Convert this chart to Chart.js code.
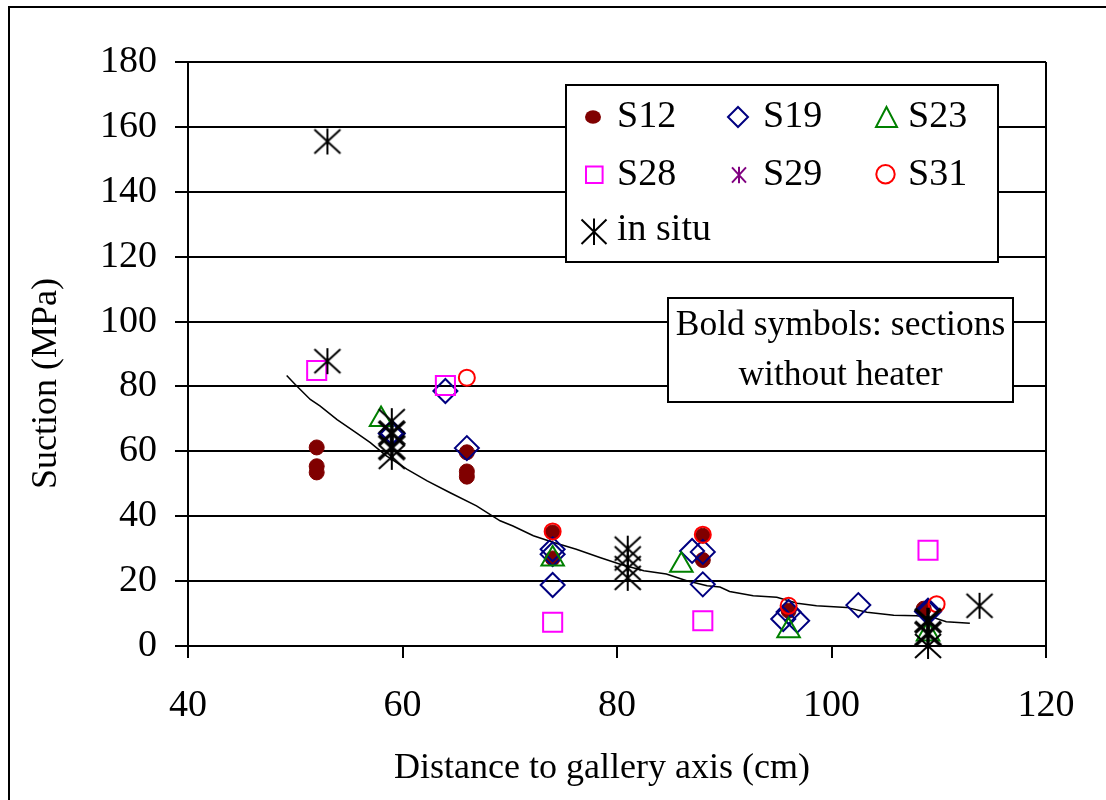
<!DOCTYPE html>
<html>
<head>
<meta charset="utf-8">
<script src="https://cdn.jsdelivr.net/npm/chart.js@4.4.1/dist/chart.umd.min.js"></script>
<style>
  html, body { margin: 0; padding: 0; background: #fff; }
  canvas { display: block; }
</style>
</head>
<body>
<canvas id="suction-chart" width="1106" height="800"></canvas>
<script>
var xTicks = [40, 60, 80, 100, 120];
var yTicks = [0, 20, 40, 60, 80, 100, 120, 140, 160, 180];

var s12 = [
  {x: 52, y: 61.2}, {x: 52, y: 55.4}, {x: 52, y: 53.5},
  {x: 66, y: 59.7}, {x: 66, y: 53.8}, {x: 66, y: 52.2},
  {x: 74, y: 35}, {x: 74, y: 27},
  {x: 88, y: 34}, {x: 88, y: 26.5},
  {x: 96, y: 10.9}, {x: 108.6, y: 11.5}
];
var s19 = [
  {x: 64, y: 78.6}, {x: 66, y: 61},
  {x: 74, y: 29.8}, {x: 74, y: 28.3}, {x: 74, y: 18.8},
  {x: 87, y: 29.3}, {x: 88, y: 29}, {x: 88, y: 19},
  {x: 95.5, y: 8.3}, {x: 96.8, y: 7.8}, {x: 96, y: 10.5},
  {x: 102.5, y: 12.6}
];
var s19NoHeater = [{x: 59, y: 65.5}, {x: 109, y: 10.6}];
var s23 = [
  {x: 58, y: 69.8}, {x: 74, y: 26.8}, {x: 86, y: 24.9},
  {x: 96, y: 4.7}, {x: 109, y: 3.7}
];
var s28 = [
  {x: 52, y: 84.9}, {x: 64, y: 80.3}, {x: 74, y: 7.3},
  {x: 88, y: 7.8}, {x: 109, y: 29.5}
];
var s29 = [];
var s31 = [
  {x: 66, y: 82.7}, {x: 74, y: 35.3}, {x: 88, y: 34.3},
  {x: 96, y: 12.4}, {x: 109.8, y: 12.9}
];
var inSitu = [
  {x: 53, y: 155.5}, {x: 53, y: 87.8},
  {x: 59, y: 69.3}, {x: 59, y: 58.3},
  {x: 81, y: 30}, {x: 81, y: 27}, {x: 81, y: 24}, {x: 81, y: 21},
  {x: 109, y: 0}, {x: 113.8, y: 12.4}
];
var inSituNoHeater = [{x: 59, y: 65.6}, {x: 59, y: 61.2}, {x: 109, y: 7.8}, {x: 109, y: 3.8}];
var trend = [
  {x: 49.2, y: 83.4}, {x: 50, y: 80.6}, {x: 51.4, y: 76}, {x: 52.3, y: 74},
  {x: 53.9, y: 69.8}, {x: 55.7, y: 65.7}, {x: 57, y: 62.7}, {x: 58.5, y: 58.6},
  {x: 60.4, y: 54.5}, {x: 62.3, y: 50.9}, {x: 64.4, y: 47.3}, {x: 66.9, y: 43.2},
  {x: 69.1, y: 38.6}, {x: 70.3, y: 37}, {x: 72.2, y: 34}, {x: 74.1, y: 31.9},
  {x: 76.2, y: 29.8}, {x: 78.4, y: 27.3}, {x: 80.3, y: 25.2}, {x: 82.5, y: 23.2},
  {x: 84.6, y: 22.2}, {x: 86.5, y: 20.1}, {x: 88.4, y: 18.6}, {x: 89.6, y: 18.2},
  {x: 90.5, y: 16.8}, {x: 92.7, y: 15.5}, {x: 94.9, y: 15}, {x: 96.8, y: 13.2},
  {x: 98.6, y: 12.4}, {x: 101.4, y: 11.9}, {x: 103.3, y: 10.4}, {x: 105.8, y: 9.5},
  {x: 107.9, y: 9.3}, {x: 109.5, y: 8.8}, {x: 110.7, y: 7.5}, {x: 112.9, y: 7}
];

var SERIF = '"Liberation Serif", "Times New Roman", serif';

// asterisk marker: vertical bar plus an X, as an image for pointStyle
function asterisk(dx, dy, color, lw) {
  var w = Math.ceil(dx * 2 + lw + 2), h = Math.ceil(dy * 2 + lw + 2);
  if (w % 2) w++;
  if (h % 2) h++;
  var c = document.createElement('canvas');
  c.width = w; c.height = h;
  var g = c.getContext('2d');
  var mx = w / 2, my = h / 2;
  g.strokeStyle = color;
  g.lineWidth = lw;
  g.beginPath();
  g.moveTo(mx, my - dy); g.lineTo(mx, my + dy);
  g.moveTo(mx - dx, my - dy * 0.92); g.lineTo(mx + dx, my + dy * 0.92);
  g.moveTo(mx - dx, my + dy * 0.92); g.lineTo(mx + dx, my - dy * 0.92);
  g.stroke();
  return c;
}

function drawSymbol(ctx, kind, x, y, a, b, color) {
  ctx.save();
  ctx.strokeStyle = color;
  ctx.fillStyle = color;
  ctx.lineWidth = 2;
  ctx.beginPath();
  if (kind === 'dot') {
    ctx.ellipse(x, y, a, b, 0, 0, Math.PI * 2);
    ctx.fill();
  } else if (kind === 'circle') {
    ctx.arc(x, y, a, 0, Math.PI * 2);
    ctx.stroke();
  } else if (kind === 'diamond') {
    ctx.moveTo(x - a, y); ctx.lineTo(x, y - b); ctx.lineTo(x + a, y); ctx.lineTo(x, y + b);
    ctx.closePath();
    ctx.stroke();
  } else if (kind === 'triangle') {
    ctx.moveTo(x, y - b); ctx.lineTo(x + a, y + b); ctx.lineTo(x - a, y + b);
    ctx.closePath();
    ctx.stroke();
  } else if (kind === 'square') {
    ctx.rect(x - a, y - b, a * 2, b * 2);
    ctx.stroke();
  } else if (kind === 'asterisk') {
    ctx.moveTo(x, y - b); ctx.lineTo(x, y + b);
    ctx.moveTo(x - a, y - b * 0.92); ctx.lineTo(x + a, y + b * 0.92);
    ctx.moveTo(x - a, y + b * 0.92); ctx.lineTo(x + a, y - b * 0.92);
    ctx.stroke();
  }
  ctx.restore();
}

var legendItems = [
  {label: 'S12', kind: 'dot', color: '#800000', mx: 593, my: 117, a: 8, b: 6.8, tx: 617, ty: 127},
  {label: 'S19', kind: 'diamond', color: '#000080', mx: 738, my: 117, a: 10, b: 10, tx: 763, ty: 127},
  {label: 'S23', kind: 'triangle', color: '#008000', mx: 886.5, my: 117, a: 10.5, b: 10, tx: 908, ty: 127},
  {label: 'S28', kind: 'square', color: '#ff00ff', mx: 594.3, my: 174.7, a: 8.3, b: 8.3, tx: 617, ty: 185},
  {label: 'S29', kind: 'asterisk', color: '#800080', mx: 739, my: 175, a: 7, b: 8.3, tx: 763, ty: 185},
  {label: 'S31', kind: 'circle', color: '#ff0000', mx: 885.5, my: 174.3, a: 9.2, b: 9.2, tx: 908, ty: 185},
  {label: 'in situ', kind: 'asterisk', color: '#000000', mx: 594, my: 231.7, a: 12.5, b: 13.3, tx: 617, ty: 240}
];

var annotations = {
  id: 'annotations',
  afterDraw: function (chart) {
    var ctx = chart.ctx, area = chart.chartArea;
    ctx.save();
    ctx.strokeStyle = '#000';
    ctx.lineWidth = 2;

    // right edge of the plot area
    ctx.beginPath();
    ctx.moveTo(area.right, area.top);
    ctx.lineTo(area.right, area.bottom);
    ctx.stroke();

    // outer frame
    ctx.strokeRect(9, 7, 1300, 1300);

    // axis titles
    ctx.fillStyle = '#000';
    ctx.font = '36px ' + SERIF;
    ctx.textAlign = 'center';
    ctx.textBaseline = 'alphabetic';
    ctx.fillText('Distance to gallery axis (cm)', 602, 778);
    ctx.save();
    ctx.translate(55.5, 383.5);
    ctx.rotate(-Math.PI / 2);
    ctx.fillText('Suction (MPa)', 0, 0);
    ctx.restore();

    // legend
    ctx.fillStyle = '#fff';
    ctx.fillRect(566, 85, 432, 177);
    ctx.strokeRect(566, 85, 432, 177);
    ctx.font = '38px ' + SERIF;
    ctx.textAlign = 'left';
    legendItems.forEach(function (it) {
      drawSymbol(ctx, it.kind, it.mx, it.my, it.a, it.b, it.color);
      ctx.fillStyle = '#000';
      ctx.fillText(it.label, it.tx, it.ty);
    });

    // note box
    ctx.fillStyle = '#fff';
    ctx.fillRect(668, 298, 345, 104);
    ctx.strokeRect(668, 298, 345, 104);
    ctx.fillStyle = '#000';
    ctx.font = '35.5px ' + SERIF;
    ctx.textAlign = 'center';
    ctx.fillText('Bold symbols: sections', 840.5, 335);
    ctx.fillText('without heater', 840.5, 385);
    ctx.restore();
  }
};

function marker(data, style, radius, color, width, fill) {
  return {
    data: data,
    pointStyle: style,
    pointRadius: radius,
    pointBorderColor: color,
    pointBackgroundColor: fill || 'rgba(0,0,0,0)',
    pointBorderWidth: width,
    showLine: false,
    clip: false
  };
}

var ctx = document.getElementById('suction-chart').getContext('2d');
var chart = new Chart(ctx, {
  type: 'scatter',
  data: {
    datasets: [
      marker(inSituNoHeater, asterisk(13, 13, '#000', 3.5), 13, '#000', 3.5),
      marker(inSitu, asterisk(13, 13, '#000', 2), 13, '#000', 2),
      marker(s31, 'circle', 8, '#ff0000', 2),
      marker(s29, asterisk(7, 8.3, '#800080', 2), 8, '#800080', 2),
      marker(s28, 'rect', 13.5, '#ff00ff', 2),
      marker(s23, 'triangle', 13, '#008000', 2),
      marker(s19NoHeater, 'rectRot', 12, '#000080', 3.5),
      marker(s19, 'rectRot', 12, '#000080', 2),
      marker(s12, 'circle', 7.5, '#800000', 1, '#800000'),
      {
        type: 'line',
        data: trend,
        borderColor: '#000',
        borderWidth: 1.5,
        pointRadius: 0,
        tension: 0,
        fill: false
      }
    ]
  },
  options: {
    responsive: false,
    animation: false,
    events: [],
    layout: { padding: { top: 62, right: 60, left: 0, bottom: 0 } },
    plugins: { legend: { display: false }, tooltip: { enabled: false } },
    scales: {
      x: {
        type: 'linear',
        min: 40,
        max: 120,
        afterBuildTicks: function (scale) {
          scale.ticks = xTicks.map(function (v) { return { value: v }; });
        },
        afterFit: function (scale) { scale.height = 154; },
        border: { color: '#000', width: 2 },
        grid: { drawOnChartArea: false, color: '#000', lineWidth: 2, tickLength: 12 },
        ticks: { color: '#000', padding: 25, maxRotation: 0, font: { family: SERIF, size: 38 } }
      },
      y: {
        type: 'linear',
        min: 0,
        max: 180,
        afterBuildTicks: function (scale) {
          scale.ticks = yTicks.map(function (v) { return { value: v }; });
        },
        afterFit: function (scale) { scale.width = 188; },
        border: { color: '#000', width: 2 },
        grid: { color: '#000', lineWidth: 2, tickLength: 13 },
        ticks: { color: '#000', padding: 18, font: { family: SERIF, size: 38 } }
      }
    }
  },
  plugins: [annotations]
});
</script>
</body>
</html>
